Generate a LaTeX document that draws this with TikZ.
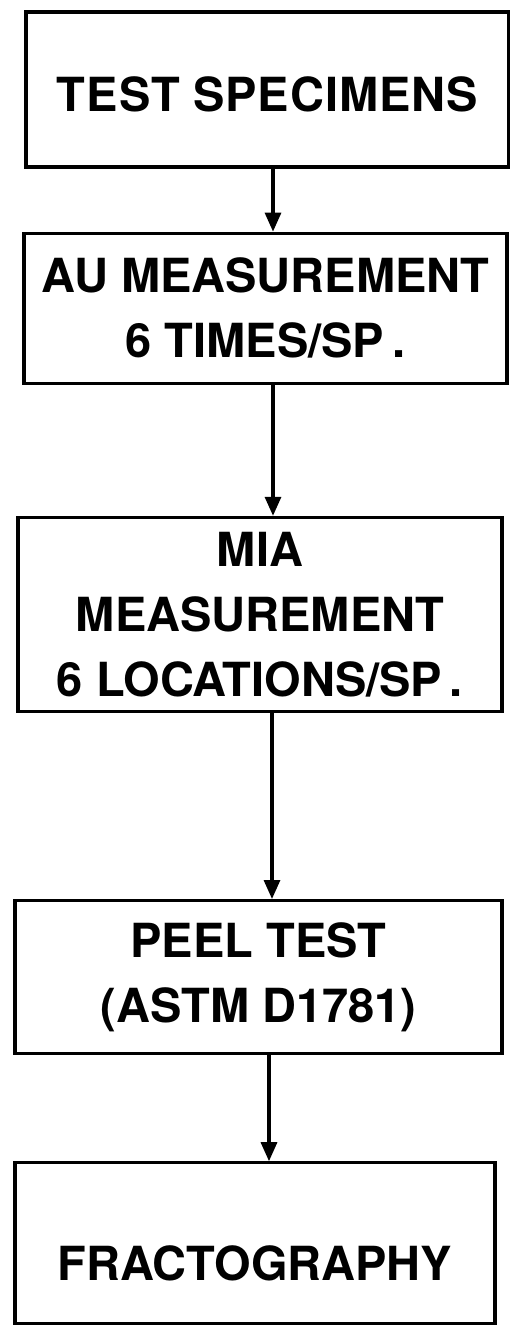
\documentclass[tikz,border=0pt]{standalone}
\usepackage{fontspec}
\setmainfont{TeX Gyre Heros}
\usetikzlibrary{arrows.meta,positioning}

\begin{document}
\begin{tikzpicture}[x=1pt,y=-1pt,
  every node/.style={draw,line width=3.2pt,align=center,inner sep=0pt,
                     font=\fontsize{47}{65}\selectfont\bfseries},
  arr/.style={-{Triangle[length=19pt,width=16pt]},line width=3.2pt}]
  \useasboundingbox (0,0) rectangle (509,1334);
  \node (spec) [minimum width=483pt,minimum height=155pt,text height=44pt,text depth=0pt]
    at (267.5,89.5) {T\kern1ptE\kern1ptS\kern1ptT S\kern1ptP\kern1ptE\kern1ptC\kern1ptI\kern1ptM\kern1ptE\kern1ptN\kern1ptS};
  \node (au) [minimum width=483pt,minimum height=150pt,below=63pt of spec,xshift=-2pt]
    {AU MEASUREMENT\\6 TIMES/SP\,.};
  \node (mia) [minimum width=484pt,minimum height=194pt,below=131pt of au,xshift=-5.5pt]
    {MIA\\MEASUREMENT\\6 LOCATIONS/SP\,.};
  \node (peel) [minimum width=487pt,minimum height=153pt,below=186pt of mia,xshift=-1.5pt]
    {PEEL TEST\\(ASTM D1781)};
  \node (fract) [minimum width=480pt,minimum height=161pt,below=106pt of peel,xshift=-3.5pt,
    text height=74pt,text depth=0pt] {FRACTOGRAPHY};
  \draw[arr] (spec.south -| 273,0) -- (au.north -| 273,0);
  \draw[arr] (au.south -| 273,0) -- (mia.north -| 273,0);
  \draw[arr] (mia.south -| 272,0) -- (peel.north -| 272,0);
  \draw[arr] (peel.south -| 269,0) -- (fract.north -| 269,0);
\end{tikzpicture}
\end{document}
